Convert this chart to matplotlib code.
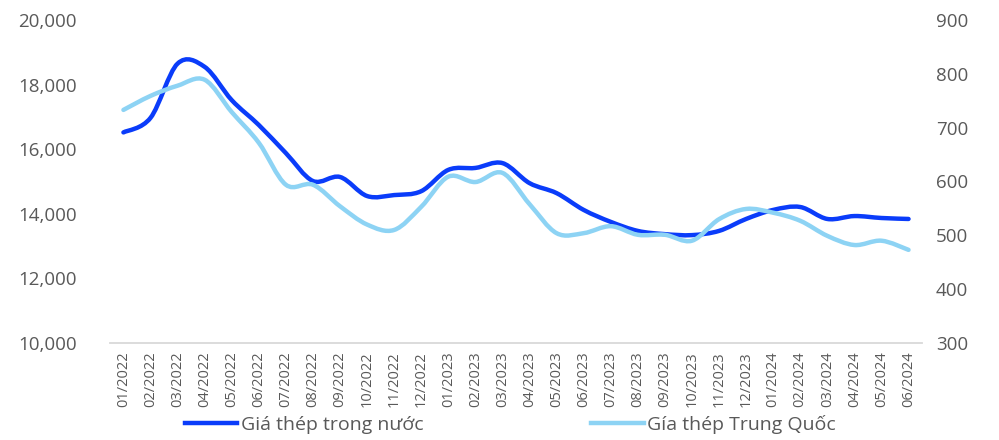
import matplotlib
matplotlib.use('Agg')
import matplotlib.pyplot as plt
from matplotlib.path import Path
from matplotlib.patches import PathPatch
from matplotlib.lines import Line2D
from matplotlib.ticker import FuncFormatter

plt.rcParams['font.family'] = ['Open Sans', 'DejaVu Sans']

# du lieu
thang = ['01/2022', '02/2022', '03/2022', '04/2022', '05/2022', '06/2022',
         '07/2022', '08/2022', '09/2022', '10/2022', '11/2022', '12/2022',
         '01/2023', '02/2023', '03/2023', '04/2023', '05/2023', '06/2023',
         '07/2023', '08/2023', '09/2023', '10/2023', '11/2023', '12/2023',
         '01/2024', '02/2024', '03/2024', '04/2024', '05/2024', '06/2024']

gia_trong_nuoc = [16520, 16970, 18650, 18550, 17520, 16750,
                  15880, 15015, 15140, 14550, 14580, 14700,
                  15360, 15420, 15570, 14950, 14640, 14120,
                  13750, 13470, 13370, 13340, 13470, 13840,
                  14120, 14210, 13840, 13930, 13870, 13840]

gia_trung_quoc = [733, 759, 778, 789, 729, 672,
                  594, 594, 554, 520, 510, 553,
                  609, 599, 616, 558, 504, 504,
                  517, 501, 501, 490, 530, 549,
                  542, 527, 499, 482, 490, 473]

mau_dam = '#0A3CFA'
mau_nhat = '#8DD3F4'
mau_chu = '#595959'


def duong_cong(ax, xs, ys, mau, lw):
    # duong muot kieu excel (catmull-rom -> bezier)
    pts = list(zip(xs, ys))
    n = len(pts)
    verts = [pts[0]]
    codes = [Path.MOVETO]
    for i in range(n - 1):
        p0 = pts[i - 1] if i > 0 else pts[i]
        p1 = pts[i]
        p2 = pts[i + 1]
        p3 = pts[i + 2] if i + 2 < n else pts[i + 1]
        c1 = (p1[0] + (p2[0] - p0[0]) / 6, p1[1] + (p2[1] - p0[1]) / 6)
        c2 = (p2[0] - (p3[0] - p1[0]) / 6, p2[1] - (p3[1] - p1[1]) / 6)
        verts += [c1, c2, p2]
        codes += [Path.CURVE4] * 3
    patch = PathPatch(Path(verts, codes), fill=False, edgecolor=mau, lw=lw,
                      capstyle='round', joinstyle='round')
    ax.add_patch(patch)


fig = plt.figure(figsize=(9.99, 4.4), dpi=100)
ax = fig.add_axes([0.110, 0.2205, 0.813, 0.734])
ax2 = ax.twinx()

x = list(range(len(thang)))
duong_cong(ax, x, gia_trong_nuoc, mau_dam, 3.2)
duong_cong(ax2, x, gia_trung_quoc, mau_nhat, 3.2)

ax.set_xlim(-0.5, len(thang) - 0.5)
ax.set_ylim(10000, 20000)
ax2.set_ylim(300, 900)
ax.set_yticks(range(10000, 20001, 2000))
ax2.set_yticks(range(300, 901, 100))
ax.yaxis.set_major_formatter(FuncFormatter(lambda v, p: f'{int(v):,}'))

ax.set_xticks(x)
ax.set_xticklabels(thang, rotation=90, fontsize=10.5, color=mau_chu)

for a in (ax, ax2):
    for s in a.spines.values():
        s.set_visible(False)
    a.tick_params(length=0)
ax.spines['bottom'].set_visible(True)
ax.spines['bottom'].set_color('#D9D9D9')
ax.spines['bottom'].set_linewidth(1.3)

ax.tick_params(axis='y', labelsize=13.5, labelcolor=mau_chu, pad=24)
ax2.tick_params(axis='y', labelsize=13.5, labelcolor=mau_chu, pad=10)
ax.tick_params(axis='x', pad=6)

handles = [Line2D([], [], color=mau_dam, lw=3.2),
           Line2D([], [], color=mau_nhat, lw=3.2)]
fig.legend(handles, ['Giá thép trong nước', 'Gía thép Trung Quốc'],
           loc='center', bbox_to_anchor=(0.511, 0.035), ncol=2, frameon=False,
           fontsize=14, labelcolor=mau_chu, handlelength=2.7,
           handletextpad=0.2, columnspacing=8.6)

fig.savefig('out.png', dpi=100)
